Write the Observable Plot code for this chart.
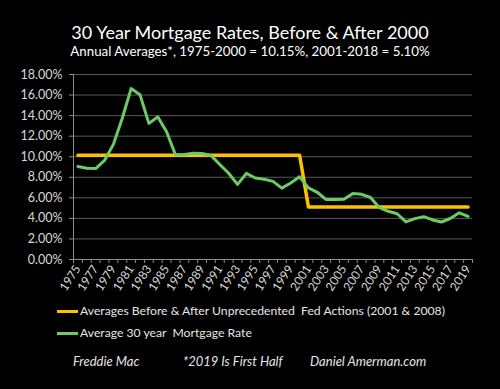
<!DOCTYPE html>
<html><head><meta charset="utf-8">
<script src="https://cdn.jsdelivr.net/npm/d3@7"></script>
<script src="https://cdn.jsdelivr.net/npm/@observablehq/plot@0.6"></script>
<style>
html,body{margin:0;padding:0;background:#000;}
body{width:500px;height:389px;overflow:hidden;position:relative;font-family:Lato,"Open Sans",sans-serif;}
.abs{position:absolute;white-space:nowrap;}
#title{left:0;top:21px;width:500px;text-align:center;color:#fff;font-size:18px;}
#subtitle{left:0;top:43px;width:500px;text-align:center;color:#fff;font-size:13.3px;}
#chart{left:0;top:62px;}
.leg{left:57px;color:#e6e6e6;font-size:12.2px;line-height:16px;height:16px;display:flex;align-items:center;}
.sw{display:inline-block;width:21px;height:3px;margin-right:2px;}
.foot{top:353px;color:#e6e6e6;font-size:13px;font-style:italic;}
</style>
</head><body>
<div id="title" class="abs">30 Year Mortgage Rates, Before &amp; After 2000</div>
<div id="subtitle" class="abs">Annual Averages*, 1975-2000 = 10.15%, 2001-2018 = 5.10%</div>
<div id="chart" class="abs"></div>
<div id="leg1" class="abs leg" style="top:303px"><span class="sw" style="background:#ffc000"></span>Averages Before &amp; After Unprecedented&nbsp; Fed Actions (2001 &amp; 2008)</div>
<div id="leg2" class="abs leg" style="top:325px"><span class="sw" style="background:#6dcb65"></span>Average 30 year&nbsp; Mortgage Rate</div>
<div class="abs foot" style="left:73px">Freddie Mac</div>
<div class="abs foot" style="left:183px">*2019 Is First Half</div>
<div class="abs foot" style="left:310px">Daniel Amerman.com</div>
<script>
const years = [1975,1976,1977,1978,1979,1980,1981,1982,1983,1984,1985,1986,1987,1988,1989,1990,1991,1992,1993,1994,1995,1996,1997,1998,1999,2000,2001,2002,2003,2004,2005,2006,2007,2008,2009,2010,2011,2012,2013,2014,2015,2016,2017,2018,2019];
const mortgageRate = [9.05,8.87,8.85,9.64,11.20,13.74,16.63,16.04,13.24,13.88,12.43,10.19,10.21,10.34,10.32,10.13,9.25,8.39,7.31,8.38,7.93,7.81,7.60,6.94,7.44,8.05,6.97,6.54,5.83,5.84,5.87,6.41,6.34,6.03,5.04,4.69,4.45,3.66,3.98,4.17,3.85,3.65,3.99,4.54,4.20];
const averageBefore = 10.15;   // 1975-2000
const averageAfter = 5.10;     // 2001-2019
const splitYear = 2000;
const yTicks = [0,2,4,6,8,10,12,14,16,18];
const xLabelYears = years.filter((y, i) => i % 2 === 0);

const rateData = years.map((year, i) => ({year, value: mortgageRate[i]}));
const avgData = years.map(year => ({year, value: year <= splitYear ? averageBefore : averageAfter}));
const tickBounds = [...years.map(y => y - 0.5), years[years.length - 1] + 0.5];

const plot = Plot.plot({
  width: 500, height: 238,
  marginLeft: 73, marginRight: 28, marginTop: 12, marginBottom: 41,
  style: {background: "transparent", color: "#d9d9d9", fontFamily: "Lato, 'Open Sans', sans-serif", fontSize: "12.5px"},
  x: {type: "linear", domain: [years[0] - 0.5, years[years.length - 1] + 0.5], label: null},
  y: {domain: [0, 18], label: null},
  marks: [
    Plot.gridY(yTicks.filter(d => d > 0), {stroke: "#595959", strokeOpacity: 1, strokeWidth: 1}),
    Plot.axisY(yTicks, {tickFormat: d => d.toFixed(2) + "%", tickSize: 4, tickPadding: 7, stroke: "#8c8c8c", fill: "#d9d9d9", label: null}),
    Plot.axisX(tickBounds, {tickSize: 4, tickFormat: () => "", stroke: "#8c8c8c", label: null}),
    Plot.axisX(xLabelYears, {tickSize: 0, tickRotate: -57, tickPadding: 7, tickFormat: d => String(d), fill: "#d9d9d9", fontSize: 12, label: null}),
    Plot.ruleY([0], {stroke: "#8c8c8c"}),
    Plot.ruleX([years[0] - 0.5], {stroke: "#8c8c8c"}),
    Plot.line(avgData, {x: "year", y: "value", stroke: "#ffc000", strokeWidth: 3.5}),
    Plot.line(rateData, {x: "year", y: "value", stroke: "#6dcb65", strokeWidth: 3})
  ]
});
document.getElementById("chart").appendChild(plot);
</script>
</body></html>
